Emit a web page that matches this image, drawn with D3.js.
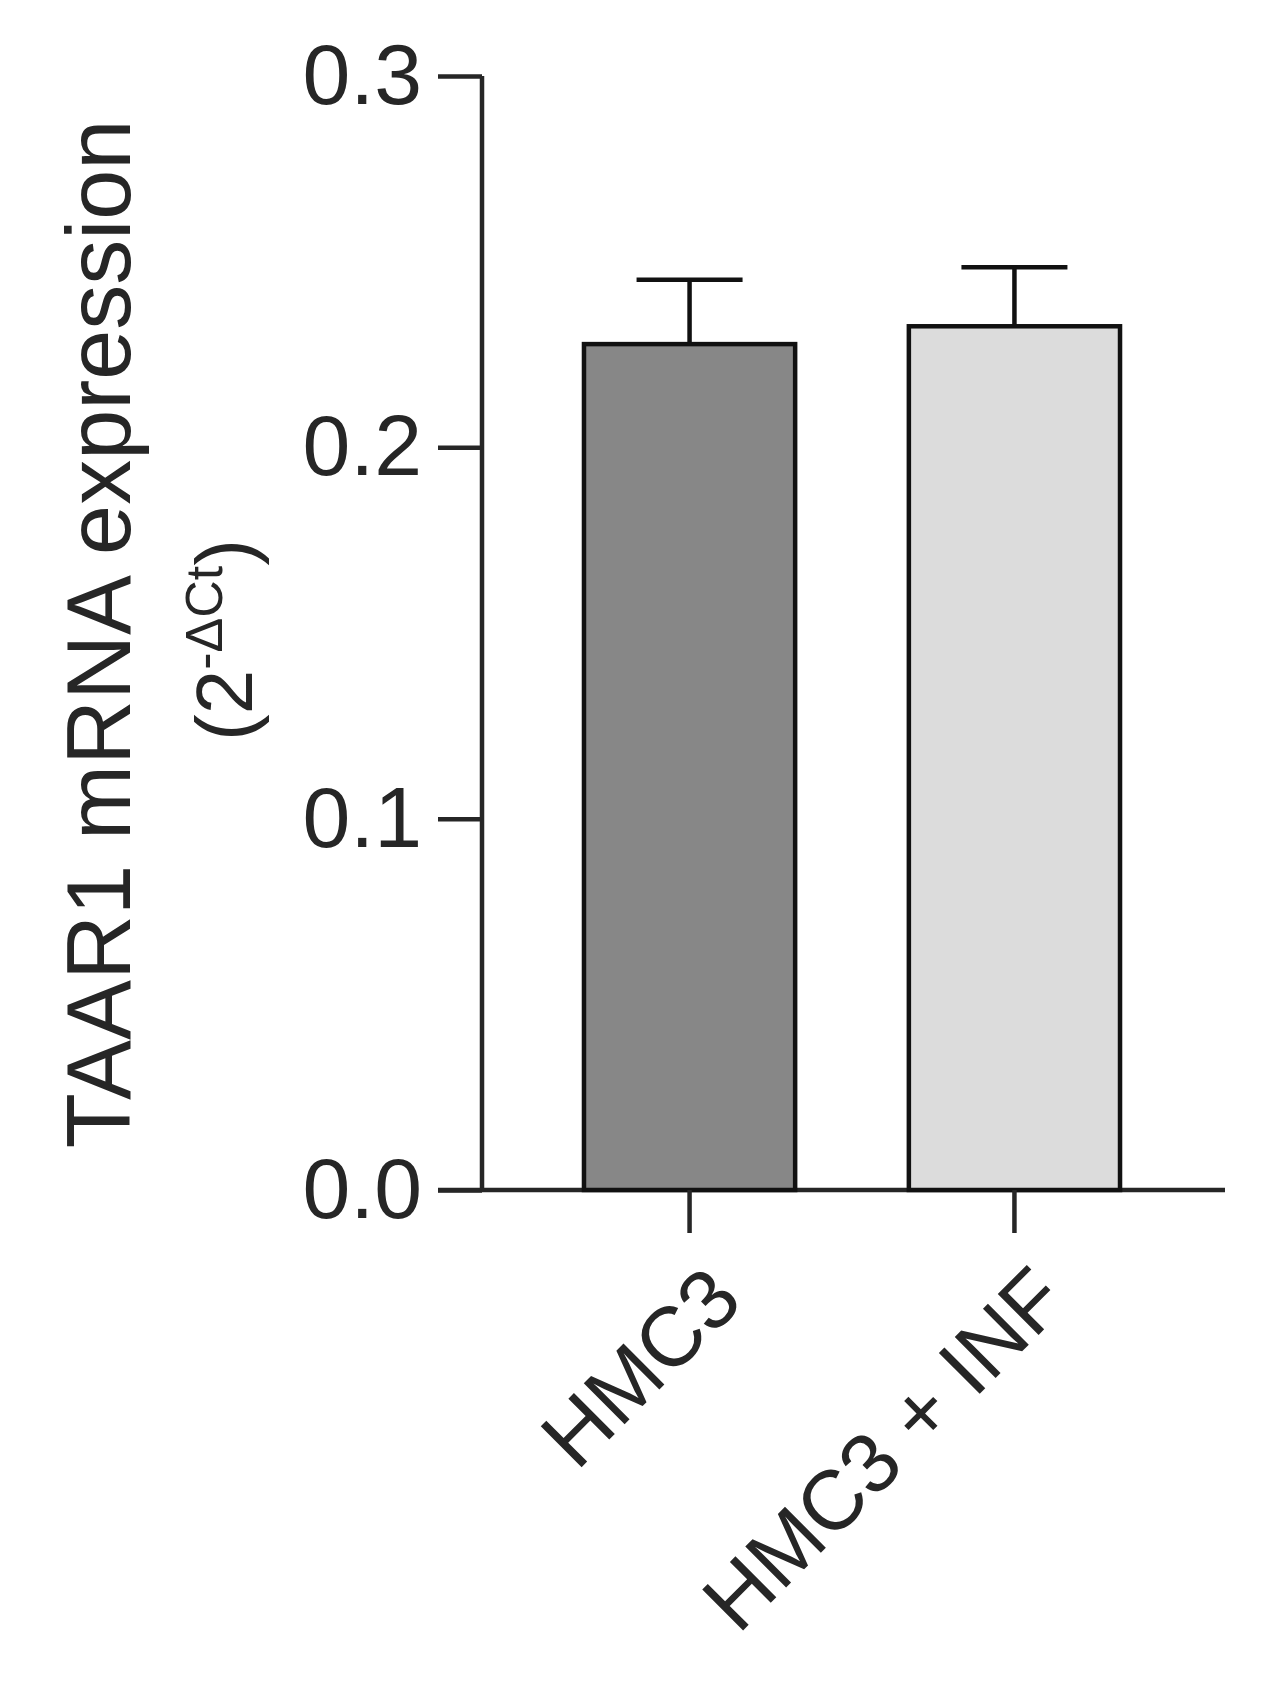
<!DOCTYPE html><html><head><script src="https://d3js.org/d3.v7.min.js"></script>
<style>body{margin:0;background:#fff}</style></head><body><script>
const categories=["HMC3","HMC3 + INF"];
const means=[0.2278,0.2326];
const errs=[0.0173,0.0159];
const fills=["#878787","#dcdcdc"];
const yTicks=[0,0.1,0.2,0.3];
const W=1267,H=1683;
const svg=d3.select("body").append("svg").attr("width",W).attr("height",H);
const y=d3.scaleLinear().domain([0,0.3]).range([1190,76]);
const x=d3.scaleBand().domain(categories).range([532,1172]).paddingInner(0.35).paddingOuter(0.16);
const c="#262626",font="Arial, Liberation Sans, sans-serif";
const ya=svg.append("g").attr("transform","translate(482,0)").call(d3.axisLeft(y).tickValues(yTicks).tickFormat(d3.format(".1f")).tickSize(44).tickPadding(16));
ya.selectAll("line,path").attr("stroke",c).attr("stroke-width",4.5);
ya.select("path").attr("d","M0,76V1190");
ya.selectAll("text").attr("font-size",86).attr("font-family",font).attr("fill",c);
svg.append("line").attr("x1",438).attr("x2",1225).attr("y1",1190).attr("y2",1190).attr("stroke",c).attr("stroke-width",4.5);
categories.forEach((k,i)=>{
 const cx=x(k)+x.bandwidth()/2;
 svg.append("line").attr("x1",cx).attr("x2",cx).attr("y1",y(means[i])).attr("y2",y(means[i]+errs[i])).attr("stroke","#111").attr("stroke-width",4.5);
 svg.append("line").attr("x1",cx-53).attr("x2",cx+53).attr("y1",y(means[i]+errs[i])).attr("y2",y(means[i]+errs[i])).attr("stroke","#111").attr("stroke-width",4.5);
 svg.append("rect").attr("x",x(k)).attr("width",x.bandwidth()).attr("y",y(means[i])).attr("height",y(0)-y(means[i])).attr("fill",fills[i]).attr("stroke","#111").attr("stroke-width",4.5);
 svg.append("line").attr("x1",cx).attr("x2",cx).attr("y1",1190).attr("y2",1233).attr("stroke",c).attr("stroke-width",4.5);
 svg.append("text").attr("transform",`translate(${cx+14},${1262}) rotate(-45)`).attr("text-anchor","end").attr("dy","0.7em").attr("font-size",84).attr("font-family",font).attr("fill",c).text(k);
});
svg.append("text").attr("transform","translate(130,634) rotate(-90)").attr("text-anchor","middle").attr("font-size",90).attr("font-family",font).attr("fill",c).text("TAAR1 mRNA expression");
const t2=svg.append("text").attr("transform","translate(252,640) rotate(-90)").attr("text-anchor","middle").attr("font-size",80).attr("font-family",font).attr("fill",c);
t2.append("tspan").text("(2");
t2.append("tspan").attr("font-size",52).attr("dy",-30).text("-ΔCt");
t2.append("tspan").attr("dy",30).text(")");
</script></body></html>
